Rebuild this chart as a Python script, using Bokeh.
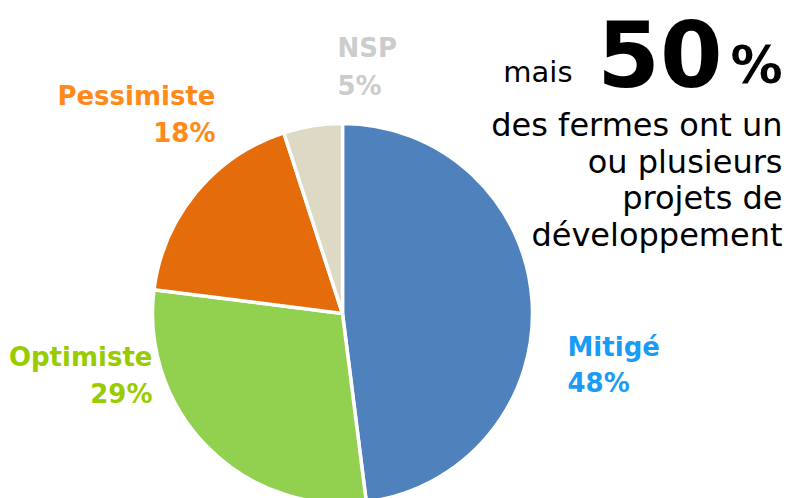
import numpy as np
from bokeh.plotting import figure
from bokeh.models import Range1d, ColumnDataSource
from bokeh.core.properties import value
from bokeh.embed import file_html
from bokeh.resources import INLINE

# ---- data ----
categories = ["Mitigé", "Optimiste", "Pessimiste", "NSP"]
shares = [48, 29, 18, 5]
slice_colors = ["#4F81BD", "#92D050", "#E46C0A", "#DDD9C4"]
label_colors = ["#1A9BF5", "#99CC00", "#FF8A1A", "#CCCCCC"]
headline_prefix = "mais"
headline_value = "50"
headline_unit = "%"
headline_lines = ["des fermes ont un", "ou plusieurs", "projets de", "développement"]

# ---- layout / style (screen pixel coordinates, y downwards) ----
W, H = 789, 498
cx, cy, R = 342, 313, 190
BASE_FIX = 0.35  # em correction for rendered baseline offset
label_anchor = {  # x, align, baseline of name, baseline of percentage
    "Mitigé": (567, "left", 356, 392),
    "Optimiste": (152, "right", 366, 403),
    "Pessimiste": (215, "right", 105, 142),
    "NSP": (337, "left", 57, 95),
}
FONT = value("DejaVu Sans")


def ty(baseline, fs):
    return -(baseline - BASE_FIX * fs)


p = figure(width=W, height=H, x_range=Range1d(0, W), y_range=Range1d(-H, 0),
           output_backend="svg", toolbar_location=None, min_border=0,
           x_axis_location=None, y_axis_location=None)
p.grid.visible = False
p.outline_line_color = None
p.background_fill_color = "white"
p.border_fill_color = "white"

# wedges
vals = np.array(shares, dtype=float)
frac = vals / vals.sum()
cum_after = np.cumsum(frac)
cum_before = cum_after - frac
start = np.pi / 2 - 2 * np.pi * cum_before
end = np.pi / 2 - 2 * np.pi * cum_after
src = ColumnDataSource(dict(cat=categories, start=start, end=end, color=slice_colors))
p.wedge(x=cx, y=-cy, radius=R, start_angle="start", end_angle="end", direction="clock",
        fill_color="color", line_color="white", line_width=3.5, source=src)

# labels
LFS = 26
lx, ly, lt, lc, la = [], [], [], [], []
for cat, s, col in zip(categories, shares, label_colors):
    x, al, b1, b2 = label_anchor[cat]
    lx += [x, x]
    ly += [ty(b1, LFS), ty(b2, LFS)]
    lt += [cat, f"{s}%"]
    lc += [col, col]
    la += [al, al]
p.text(x="x", y="y", text="t", text_color="c", text_align="a",
       source=ColumnDataSource(dict(x=lx, y=ly, t=lt, c=lc, a=la)),
       text_font=FONT, text_font_size=f"{LFS}px", text_font_style="bold",
       text_baseline="alphabetic")

# headline
p.text(x=[782], y=[ty(83, 52)], text=[headline_unit], text_font=FONT, text_font_size="52px",
       text_font_style="bold", text_color="black", text_align="right", text_baseline="alphabetic")
p.text(x=[722], y=[ty(84, 90)], text=[headline_value], text_font=FONT, text_font_size="90px",
       text_font_style="bold", text_color="black", text_align="right", text_baseline="alphabetic")
p.text(x=[572], y=[ty(82, 29)], text=[headline_prefix], text_font=FONT, text_font_size="29px",
       text_color="black", text_align="right", text_baseline="alphabetic")
p.text(x=[782] * len(headline_lines), y=[ty(136 + 36.5 * i, 32) for i in range(len(headline_lines))],
       text=headline_lines, text_font=FONT, text_font_size="32px", text_color="black",
       text_align="right", text_baseline="alphabetic")

open("out.html", "w").write(file_html(p, INLINE))
